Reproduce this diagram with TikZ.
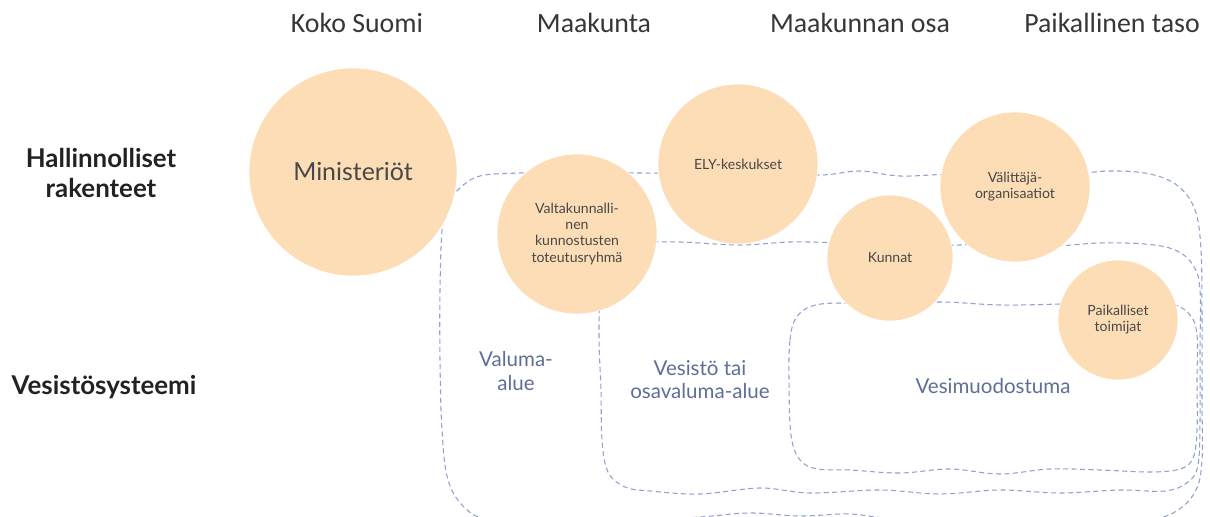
\documentclass[tikz,border=0pt]{standalone}
\usepackage{fontspec}
\setmainfont{Lato}
\newfontfamily\headfont{Carlito}

\definecolor{orgfill}{RGB}{253,221,182}
\definecolor{orgtext}{RGB}{72,72,72}
\definecolor{arealine}{RGB}{145,160,205}
\definecolor{areatext}{RGB}{95,110,150}
\definecolor{headtext}{RGB}{55,55,55}
\definecolor{rowtext}{RGB}{34,34,34}

\begin{document}
\begin{tikzpicture}[x=0.025cm, y=-0.025cm,
  org/.style={circle, fill=orgfill, draw=white, line width=0.5pt, inner sep=0pt, align=center, text=orgtext},
  small/.style={font=\fontsize{10}{11.4}\selectfont},
  area/.style={draw=arealine, line width=0.75pt, dash pattern=on 3.6pt off 2.4pt},
  arealabel/.style={text=areatext, align=center, font=\fontsize{14.6}{16.4}\selectfont},
  colhead/.style={text=headtext, font=\headfont\fontsize{19.8}{24}\selectfont},
  rowhead/.style={text=rowtext, align=center, font=\bfseries\fontsize{18.4}{21.3}\selectfont}]

\useasboundingbox (0,0) rectangle (1210,517);
\clip (0,0) rectangle (1210,517);

% levels
\node [colhead] (KOKO) at (357,23) {Koko Suomi};
\node [colhead] (MAAK) at (594,23) {Maakunta};
\node [colhead] (OSA) at (860,23) {Maakunnan osa};
\node [colhead] (PAIKT) at (1112,23) {Paikallinen taso};

\node [rowhead] (HALL) at (101,173) {Hallinnolliset\\rakenteet};
\node [rowhead] (VESI) at (104,387) {Vesistösysteemi};

% water areas
\draw [area] plot [smooth cycle, tension=0.6] coordinates {
  (442,230) (447,205) (460,188) (480,176) (520,173) (580,172) (640,173)
  (700,173) (760,172) (820,175) (860,171) (900,176) (950,174) (1000,173)
  (1060,175) (1110,171) (1150,174) (1178,186) (1195,210) (1201,250)
  (1202,320) (1202,400) (1202,460) (1196,490) (1178,510) (1150,519)
  (1080,520) (1000,518) (900,519) (850,514) (800,516) (750,513) (700,517)
  (640,520) (560,520) (490,519) (465,508) (448,480) (442,430) (440,360)
  (440,290)};
\draw [area] plot [smooth cycle, tension=0.6] coordinates {
  (600,290) (603,265) (615,250) (640,243) (680,242) (740,245) (790,242)
  (840,243) (900,246) (960,245) (1000,242) (1050,246) (1100,243)
  (1145,244) (1175,250) (1193,265) (1200,290) (1200,350) (1200,420)
  (1198,465) (1188,482) (1165,491) (1120,490) (1060,493) (1000,490)
  (940,494) (880,490) (810,493) (760,488) (700,494) (650,491) (625,487)
  (608,472) (602,440) (601,390) (599,340)};
\draw [area] plot [smooth cycle, tension=0.6] coordinates {
  (789,380) (790,340) (796,318) (812,306) (840,303) (880,305) (940,302)
  (1000,305) (1060,304) (1120,302) (1170,304) (1190,315) (1197,335)
  (1197,380) (1197,430) (1193,458) (1180,469) (1150,472) (1100,470)
  (1050,469) (1000,474) (950,469) (900,473) (850,470) (818,469)
  (800,460) (791,435)};

\node [arealabel] (VALU) at (516,371) {Valuma-\\alue};
\node [arealabel] (OSAV) at (700,380) {Vesistö tai\\osavaluma-alue};
\node [arealabel] (MUOD) at (993,386) {Vesimuodostuma};

% organisations
\node [org, minimum size=5.2cm, font=\fontsize{17.7}{20}\selectfont] (MIN) at (353,172) {Ministeriöt};
\node [org, small, minimum size=4cm] (VALT) at (577,234) {Valtakunnalli-\\nen\\kunnostusten\\toteutusryhmä};
\node [org, small, minimum size=4cm] (ELY) at (738,164) {ELY-keskukset};
\node [org, small, minimum size=3.15cm] (KUNN) at (890,258) {Kunnat};
\node [org, small, minimum size=3.75cm] (VALI) at (1015,187) {Välittäjä-\\organisaatiot};
\node [org, small, minimum size=3cm] (PAIK) at (1118,320) {Paikalliset\\toimijat};
\end{tikzpicture}
\end{document}
